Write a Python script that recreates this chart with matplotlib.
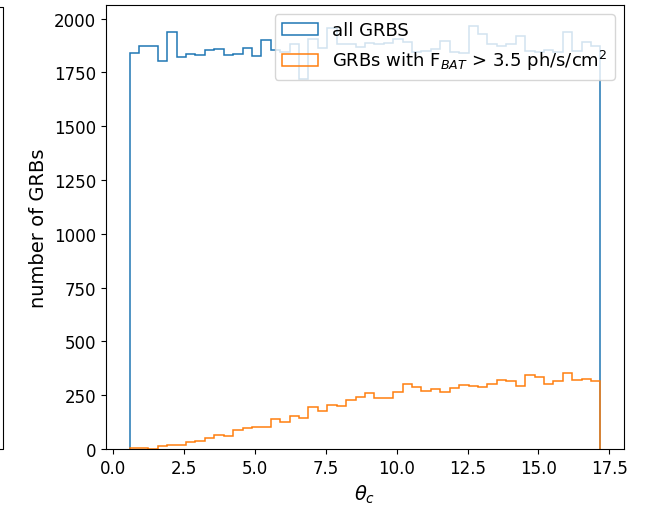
import numpy as np
import matplotlib
matplotlib.use("Agg")
import matplotlib.pyplot as plt
from matplotlib.lines import Line2D

# Jet opening angle range (degrees) and binning
theta_min_deg = np.degrees(0.01)
theta_max_deg = np.degrees(0.3)
n_bins = 50

# Counts per opening-angle bin
all_grbs = [
    1840, 1875, 1875, 1805, 1940, 1820, 1835, 1830, 1855, 1860,
    1830, 1835, 1865, 1825, 1900, 1855, 1845, 1880, 1720, 1905,
    1865, 1955, 1880, 1880, 1870, 1885, 1880, 1885, 1905, 1890,
    1845, 1850, 1860, 1895, 1845, 1840, 1965, 1930, 1880, 1875,
    1880, 1920, 1850, 1845, 1855, 1845, 1940, 1850, 1890, 1875,
]
bright_grbs = [
    3, 3, 1, 12, 20, 20, 31, 36, 51, 65,
    59, 90, 96, 101, 101, 140, 126, 152, 143, 197,
    178, 206, 202, 229, 240, 259, 237, 237, 264, 302,
    287, 271, 279, 267, 284, 298, 295, 290, 302, 322,
    318, 295, 344, 333, 302, 315, 355, 322, 327, 315,
]

labels = ["all GRBS", r"GRBs with F$_{BAT}$ > 3.5 ph/s/cm$^2$"]

edges = np.linspace(theta_min_deg, theta_max_deg, n_bins + 1)
centers = 0.5 * (edges[:-1] + edges[1:])

fig = plt.figure(figsize=(6.51, 5.06), dpi=100)
ax = fig.add_axes([0.1628, 0.1107, 0.7957, 0.8773])

ax.hist(centers, bins=edges, weights=all_grbs, histtype="step",
        color="C0", lw=1.1, label=labels[0])
ax.hist(centers, bins=edges, weights=bright_grbs, histtype="step",
        color="C1", lw=1.1, label=labels[1])

ax.set_xlabel(r"$\theta_c$", fontsize=14)
ax.set_ylabel("number of GRBs", fontsize=14)
ax.tick_params(labelsize=12)
ax.legend(loc="upper right", fontsize=13)

# Edge of the neighbouring panel
fig.add_artist(Line2D([0, 3.3 / 651, 3.3 / 651, 0],
                      [1 - 7.5 / 506, 1 - 7.5 / 506, 1 - 450 / 506, 1 - 450 / 506],
                      transform=fig.transFigure, color="black", lw=0.8))

fig.savefig("out.png", dpi=100)
